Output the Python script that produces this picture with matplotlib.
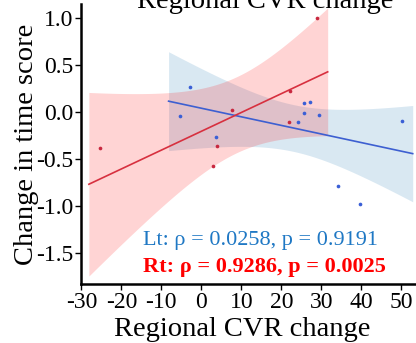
import numpy as np
import matplotlib
matplotlib.use("Agg")
import matplotlib.pyplot as plt

# left hemisphere (blue) and right hemisphere (red) points
lt_cvr = [-5.4, -2.75, 3.75, 24.1, 25.6, 25.6, 27.2, 29.5, 34.2, 39.75, 50.1]
lt_time = [-0.046, 0.27, -0.27, -0.11, 0.099, -0.014, 0.11, -0.032, -0.79, -0.98, -0.09]
rt_cvr = [-25.4, 2.9, 4.0, 7.75, 21.9, 22.1, 28.9]
rt_time = [-0.38, -0.58, -0.365, 0.02, -0.11, 0.225, 1.0]

lt_label = "Lt: ρ = 0.0258, p = 0.9191"
rt_label = "Rt: ρ = 0.9286, p = 0.0025"

# two-sided 95% t critical values by degrees of freedom
t_crit = {5: 2.571, 9: 2.262}

plt.rcParams["font.family"] = ["Liberation Serif", "DejaVu Serif"]
plt.rcParams["axes.unicode_minus"] = False


def reg_with_band(ax, x, y, line_color, band_color, band_alpha, dot_color):
    x = np.asarray(x, dtype=float)
    y = np.asarray(y, dtype=float)
    n = len(x)
    b, a = np.polyfit(x, y, 1)
    span = x.max() - x.min()
    xs = np.linspace(x.min() - 0.05 * span, x.max() + 0.05 * span, 200)
    yhat = a + b * xs
    resid = y - (a + b * x)
    s = np.sqrt((resid ** 2).sum() / (n - 2))
    sxx = ((x - x.mean()) ** 2).sum()
    se = s * np.sqrt(1.0 / n + (xs - x.mean()) ** 2 / sxx)
    ci = t_crit[n - 2] * se
    ax.fill_between(xs, yhat - ci, yhat + ci, color=band_color, alpha=band_alpha, lw=0)
    ax.plot(xs, yhat, color=line_color, lw=1.2)
    ax.scatter(x, y, s=7, color=dot_color, zorder=3, lw=0)


fig = plt.figure(figsize=(4.16, 3.43), dpi=100)
ax = fig.add_axes([0.1955, 0.172, 0.8045, 0.816])

reg_with_band(ax, lt_cvr, lt_time, "#3d5fd1", "#1f77b4", 0.17, "#3a5fd6")
reg_with_band(ax, rt_cvr, rt_time, "#d7303f", "#ff0000", 0.17, "#c8283f")

ax.set_xlim(-30, 53.7)
ax.set_ylim(-1.836, 1.153)
ax.set_xticks(np.arange(-30, 51, 10))
ax.set_yticks([-1.5, -1.0, -0.5, 0.0, 0.5, 1.0])
ax.set_yticklabels(["%.1f" % v for v in [-1.5, -1.0, -0.5, 0.0, 0.5, 1.0]])

for side in ["top", "right"]:
    ax.spines[side].set_visible(False)
for side in ["left", "bottom"]:
    ax.spines[side].set_linewidth(1.8)
ax.tick_params(direction="out", length=4, width=1, labelsize=17, pad=2)

ax.set_xlabel("Regional CVR change", fontsize=20.5)
ax.xaxis.set_label_coords(0.48, -0.118)
ax.set_ylabel("Change in time score", fontsize=20.5)
ax.yaxis.set_label_coords(-0.127, 0.5)

ax.text(0.183, 0.139, lt_label, transform=ax.transAxes, fontsize=16,
        color="#1f78c4", va="baseline")
ax.text(0.183, 0.044, rt_label, transform=ax.transAxes, fontsize=16,
        color="#ff0000", fontweight="bold", va="baseline")

# x label of the panel above, cut by the crop
fig.text(0.637, 1 - 7.5 / 343, "Regional CVR change", ha="center", va="baseline",
         fontsize=20.5)

fig.savefig("out.png", dpi=100)
